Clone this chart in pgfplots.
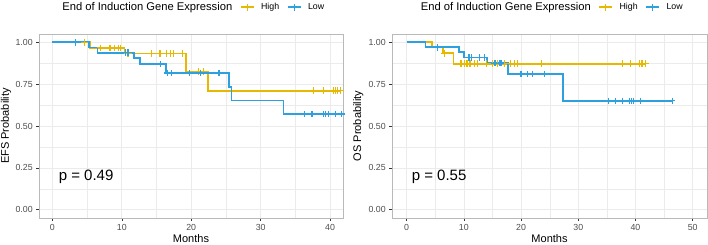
\documentclass[border=0pt]{standalone}
\usepackage{pgfplots}
\pgfplotsset{compat=1.18}
\usepackage{fontspec}
\setmainfont{Liberation Sans}

\definecolor{kmhigh}{HTML}{E7B800}
\definecolor{kmlow}{HTML}{2E9FDF}
\definecolor{grey20}{HTML}{333333}
\definecolor{grey30}{HTML}{4D4D4D}
\definecolor{grey92}{HTML}{EBEBEB}

\pgfplotsset{
  km/.style={
    scale only axis, height=184pt,
    ymin=-0.05, ymax=1.05,
    ytick={0,0.25,0.5,0.75,1},
    minor x tick num=1, minor y tick num=1,
    grid=both,
    major grid style={grey92, line width=0.6pt},
    minor grid style={grey92, line width=0.3pt},
    axis line style={gray!55, line width=0.8pt},
    tick pos=left, tick align=outside,
    major tick length=2.75pt, minor tick length=0pt,
    tick style={grey20, line width=0.5pt},
    /pgf/number format/assume math mode=true,
    xticklabel style={font=\fontsize{8.8}{10}\selectfont, text=grey30},
    yticklabel style={font=\fontsize{8.8}{10}\selectfont, text=grey30,
      /pgf/number format/fixed, /pgf/number format/fixed zerofill,
      /pgf/number format/precision=2},
    label style={font=\fontsize{11}{13}\selectfont},
    xlabel style={at={(axis description cs:0.5,0)}, anchor=center, yshift=-21pt},
    legend columns=3,
    legend style={draw=none, fill=none, at={(0.5,1.145)}, anchor=center,
      font=\fontsize{8.8}{10}\selectfont,
      /tikz/every even column/.append style={column sep=5.5pt},
      /tikz/every odd column/.append style={column sep=4.5pt}},
    legend image code/.code={
      \draw[#1, line width=1.8pt] (0pt,0pt) -- (13pt,0pt);
      \draw[#1, line width=1.1pt] (6.5pt,-3.5pt) -- (6.5pt,3.5pt);},
  },
  kmline/.style={const plot, line width=1.8pt, no marks, forget plot},
  cens/.style={only marks, mark=+, mark size=3.3pt, mark options={line width=1.1pt}, forget plot},
}

\begin{document}
\begin{tikzpicture}
\path[use as bounding box] (0,0) rectangle (708pt,-245pt);

% ---------------- Event-free survival ----------------
\begin{axis}[km, at={(39pt,-34pt)}, anchor=north west, width=304pt,
  xmin=-1.92, xmax=41.86, xtick={0,10,20,30,40},
  xlabel={Months}, ylabel={EFS Probability},
  ylabel style={at={(axis description cs:-0.1086,0.5)}, anchor=center}]
\addlegendimage{empty legend}
\addlegendentry{\fontsize{11.2}{13}\selectfont End of Induction Gene Expression}
\addlegendimage{kmhigh}\addlegendentry{High}
\addlegendimage{kmlow}\addlegendentry{Low}

\addplot[kmline, kmhigh] coordinates {
  (0,1) (5.4,0.967) (10.4,0.933) (19.2,0.825) (22.4,0.711) (41.5,0.711)};
\addplot[cens, kmhigh] coordinates {
  (4.6,1) (6.9,0.967) (8.3,0.967) (9.0,0.967) (9.5,0.967) (9.8,0.967)
  (10.8,0.933) (11.0,0.933) (14.3,0.933) (15.5,0.933) (16.5,0.933)
  (17.0,0.933) (17.4,0.933) (18.7,0.933) (21.0,0.825) (21.8,0.825)
  (37.6,0.711) (39.0,0.711) (40.5,0.711) (40.8,0.711) (41.1,0.711) (41.5,0.711)};

\addplot[kmline, kmlow] coordinates {
  (0,1) (5.3,0.969) (6.5,0.938) (11.8,0.906) (12.6,0.870) (16.4,0.817)
  (25.4,0.735) (25.8,0.653) (33.3,0.572) (41.7,0.572)};
\addplot[cens, kmlow] coordinates {
  (3.3,1) (10.5,0.938) (10.9,0.938) (15.6,0.870) (16.6,0.817) (17.1,0.817)
  (19.7,0.817) (21.3,0.817) (24.0,0.817)
  (36.3,0.572) (37.4,0.572) (39.1,0.572) (39.4,0.572) (39.8,0.572)
  (40.8,0.572) (41.7,0.572)};

\node[anchor=west, font=\fontsize{15}{17}\selectfont, inner sep=0pt]
  at (axis cs:0.9,0.195) {p = 0.49};
\end{axis}

% ---------------- Overall survival ----------------
\begin{axis}[km, at={(392pt,-34pt)}, anchor=north west, width=315pt,
  xmin=-2.55, xmax=52.5, xtick={0,10,20,30,40,50},
  xlabel={Months}, ylabel={OS Probability},
  ylabel style={at={(axis description cs:-0.107,0.5)}, anchor=center}]
\addlegendimage{empty legend}
\addlegendentry{\fontsize{11.2}{13}\selectfont End of Induction Gene Expression}
\addlegendimage{kmhigh}\addlegendentry{High}
\addlegendimage{kmlow}\addlegendentry{Low}

\addplot[kmline, kmhigh] coordinates {
  (0,1) (4.5,0.969) (6.3,0.935) (8.2,0.873) (41.7,0.873)};
\addplot[cens, kmhigh] coordinates {
  (6.6,0.935) (9.5,0.873) (10.1,0.873) (10.4,0.873) (10.7,0.873)
  (11.0,0.873) (11.2,0.873) (11.8,0.873) (12.4,0.873) (13.9,0.873)
  (15.0,0.873) (15.9,0.873) (17.1,0.873) (18.2,0.873) (18.8,0.873)
  (19.4,0.873) (23.5,0.873) (37.7,0.873) (39.1,0.873) (40.7,0.873)
  (41.0,0.873) (41.3,0.873) (41.7,0.873)};

\addplot[kmline, kmlow] coordinates {
  (0,1) (3.3,0.971) (9.2,0.943) (10.0,0.910) (14.1,0.876) (17.7,0.812)
  (27.3,0.650) (46.4,0.650)};
\addplot[cens, kmlow] coordinates {
  (5.4,0.971) (10.9,0.910) (11.3,0.910) (12.8,0.910) (13.6,0.910)
  (15.3,0.876) (15.6,0.876) (16.2,0.876) (16.5,0.876)
  (20.0,0.812) (21.2,0.812) (22.0,0.812) (24.1,0.812)
  (35.3,0.650) (36.5,0.650) (37.8,0.650) (39.0,0.650) (39.3,0.650)
  (39.7,0.650) (40.9,0.650) (46.4,0.650)};

\node[anchor=west, font=\fontsize{15}{17}\selectfont, inner sep=0pt]
  at (axis cs:0.87,0.195) {p = 0.55};
\end{axis}
\end{tikzpicture}
\end{document}
